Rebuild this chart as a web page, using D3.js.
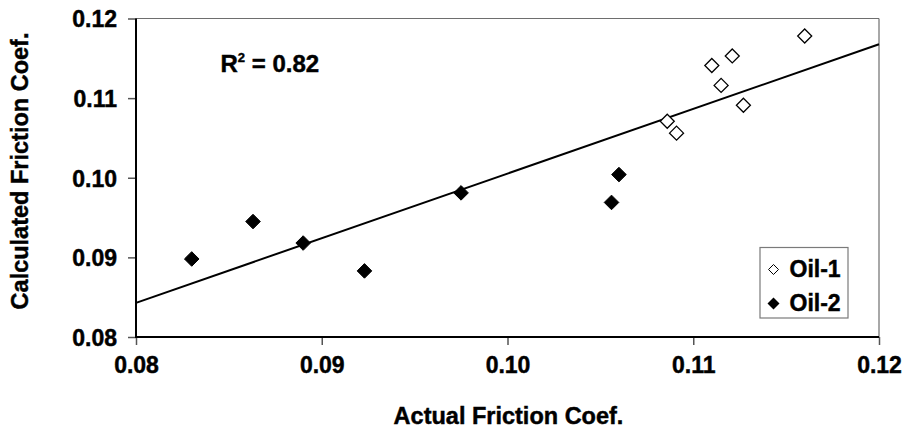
<!DOCTYPE html>
<html>
<head>
<meta charset="utf-8">
<script src="https://cdn.jsdelivr.net/npm/d3@7"></script>
<style>
  html, body { margin: 0; padding: 0; background: #fff; }
  svg text { font-family: "Liberation Sans", Arial, sans-serif; font-weight: bold; fill: #000; stroke: #000; stroke-width: 0.45px; }
</style>
</head>
<body>
<svg id="chart" width="907" height="428"></svg>
<script>
// ---- Data ----
const oil1Actual = [0.1086, 0.1091, 0.1110, 0.1115, 0.1121, 0.1127, 0.1160];
const oil1Calc   = [0.1071, 0.1056, 0.1141, 0.1116, 0.1153, 0.1091, 0.1178];
const oil2Actual = [0.0830, 0.0863, 0.0890, 0.0923, 0.0975, 0.1056, 0.1060];
const oil2Calc   = [0.0898, 0.0945, 0.0918, 0.0883, 0.0981, 0.0969, 0.1004];
const xTicks = [0.08, 0.09, 0.10, 0.11, 0.12];
const yTicks = [0.08, 0.09, 0.10, 0.11, 0.12];
const seriesNames = ["Oil-1", "Oil-2"];
const r2Label = "0.82";
const xTitle = "Actual Friction Coef.";
const yTitle = "Calculated Friction Coef.";

// ---- Layout ----
const pLeft = 136, pRight = 879, pTop = 18.5, pBottom = 337;
const svg = d3.select("#chart");
const x = d3.scaleLinear().domain([0.08, 0.12]).range([pLeft, pRight]);
const y = d3.scaleLinear().domain([0.08, 0.12]).range([pBottom, pTop]);
const fmt = d3.format(".2f");

// frame: top and right thin gray
svg.append("line").attr("x1", pLeft).attr("x2", pRight).attr("y1", pTop).attr("y2", pTop)
  .attr("stroke", "#6e6e6e").attr("stroke-width", 1.2);
svg.append("line").attr("x1", pRight).attr("x2", pRight).attr("y1", pTop).attr("y2", pBottom)
  .attr("stroke", "#6e6e6e").attr("stroke-width", 1.2);

// Y axis
const yAxis = d3.axisLeft(y).tickValues(yTicks).tickFormat(fmt).tickSize(8).tickPadding(11);
const gy = svg.append("g").attr("transform", `translate(${pLeft},0)`).call(yAxis);
gy.select(".domain").remove();
gy.selectAll(".tick line").attr("stroke", "#555").attr("stroke-width", 1.5);
gy.selectAll(".tick text").attr("font-size", 23).attr("dy", "0.36em")
  .style("font-family", '"Liberation Sans", Arial, sans-serif').style("font-weight", "bold");

// X axis
const xAxis = d3.axisBottom(x).tickValues(xTicks).tickFormat(fmt).tickSize(8).tickPadding(12);
const gx = svg.append("g").attr("transform", `translate(0,${pBottom})`).call(xAxis);
gx.select(".domain").remove();
gx.selectAll(".tick line").attr("stroke", "#555").attr("stroke-width", 1.5);
gx.selectAll(".tick text").attr("font-size", 23).attr("dy", "0.71em")
  .style("font-family", '"Liberation Sans", Arial, sans-serif').style("font-weight", "bold");

// main axis lines
svg.append("line").attr("x1", pLeft).attr("x2", pLeft).attr("y1", pTop).attr("y2", pBottom + 1)
  .attr("stroke", "#000").attr("stroke-width", 2);
svg.append("line").attr("x1", pLeft - 1).attr("x2", pRight).attr("y1", pBottom).attr("y2", pBottom)
  .attr("stroke", "#000").attr("stroke-width", 2);

// regression line from all data
const allX = oil1Actual.concat(oil2Actual);
const allY = oil1Calc.concat(oil2Calc);
const mx = d3.mean(allX), my = d3.mean(allY);
const sxy = d3.sum(allX, (v, i) => (v - mx) * (allY[i] - my));
const sxx = d3.sum(allX, v => (v - mx) * (v - mx));
const slope = sxy / sxx, intercept = my - slope * mx;
const lineX = x.domain();
svg.append("line")
  .attr("x1", x(lineX[0])).attr("y1", y(intercept + slope * lineX[0]))
  .attr("x2", x(lineX[1])).attr("y2", y(intercept + slope * lineX[1]))
  .attr("stroke", "#000").attr("stroke-width", 2);

// diamond path
function diamond(r) { return `M0,${-r}L${r},0L0,${r}L${-r},0Z`; }

// points
const p1 = oil1Actual.map((v, i) => [v, oil1Calc[i]]);
const p2 = oil2Actual.map((v, i) => [v, oil2Calc[i]]);
svg.append("g").selectAll("path").data(p2).join("path")
  .attr("d", diamond(7.3)).attr("transform", d => `translate(${x(d[0])},${y(d[1])})`)
  .attr("fill", "#000").attr("stroke", "#000").attr("stroke-width", 1);
svg.append("g").selectAll("path").data(p1).join("path")
  .attr("d", diamond(7)).attr("transform", d => `translate(${x(d[0])},${y(d[1])})`)
  .attr("fill", "#fff").attr("stroke", "#000").attr("stroke-width", 1.3);

// R^2 label
const rt = svg.append("text").attr("x", 220.5).attr("y", 72).attr("font-size", 24);
rt.append("tspan").text("R");
rt.append("tspan").attr("font-size", 13).attr("dy", -10).text("2");
rt.append("tspan").attr("dy", 10).text(" = " + r2Label);

// Axis titles
svg.append("text").attr("x", (pLeft + pRight) / 2 + 1).attr("y", 424).attr("text-anchor", "middle")
  .attr("font-size", 23.5).text(xTitle);
svg.append("text").attr("transform", `translate(28,171) rotate(-90)`).attr("text-anchor", "middle")
  .attr("font-size", 23.5).text(yTitle);

// Legend
svg.append("rect").attr("x", 760).attr("y", 247.5).attr("width", 88).attr("height", 70.5)
  .attr("fill", "#fff").attr("stroke", "#7a7a7a").attr("stroke-width", 1.2);
const legendY = [269.5, 303.5];
svg.append("path").attr("d", diamond(5)).attr("transform", `translate(773.5,${legendY[0]})`)
  .attr("fill", "#fff").attr("stroke", "#000").attr("stroke-width", 1);
svg.append("path").attr("d", diamond(6)).attr("transform", `translate(773.5,${legendY[1]})`)
  .attr("fill", "#000");
seriesNames.forEach((n, i) => {
  svg.append("text").attr("x", 789.5).attr("y", legendY[i] + 7.5).attr("font-size", 23).text(n);
});
</script>
</body>
</html>
